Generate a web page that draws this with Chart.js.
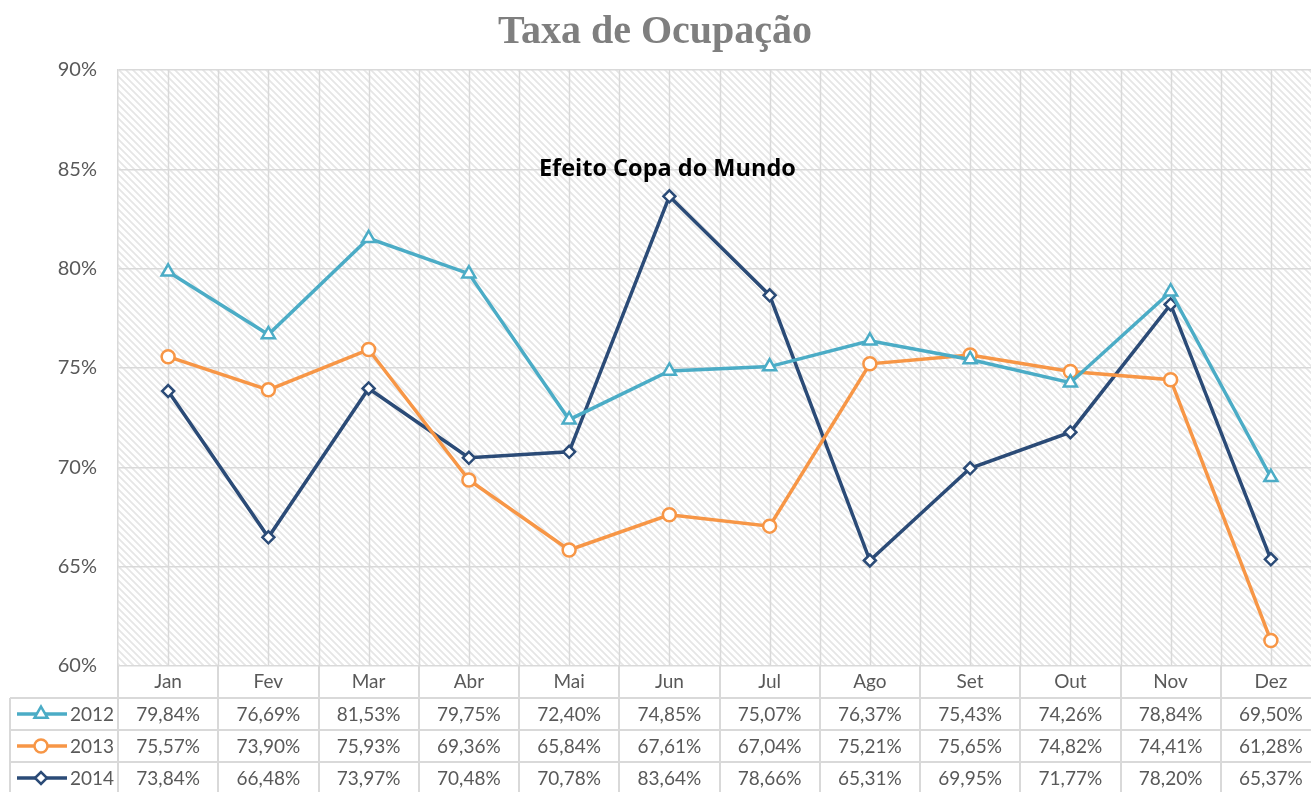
<!DOCTYPE html>
<html lang="pt">
<head>
    <meta charset="UTF-8">
    <title>Taxa de Ocupação</title>
    <script src="https://cdn.jsdelivr.net/npm/chart.js"></script>
    <style>
        html, body {
            margin: 0;
            padding: 0;
            overflow: hidden;
            background: #fff;
        }
        canvas {
            display: block;
        }
    </style>
</head>
<body>
    <canvas id="ocupacao" width="1331" height="792"></canvas>

    <script>
        const meses = ['Jan', 'Fev', 'Mar', 'Abr', 'Mai', 'Jun', 'Jul', 'Ago', 'Set', 'Out', 'Nov', 'Dez'];
        const anos = ['2012', '2013', '2014'];
        const taxa2012 = [79.84, 76.69, 81.53, 79.75, 72.40, 74.85, 75.07, 76.37, 75.43, 74.26, 78.84, 69.50];
        const taxa2013 = [75.57, 73.90, 75.93, 69.36, 65.84, 67.61, 67.04, 75.21, 75.65, 74.82, 74.41, 61.28];
        const taxa2014 = [73.84, 66.48, 73.97, 70.48, 70.78, 83.64, 78.66, 65.31, 69.95, 71.77, 78.20, 65.37];
        const yTicks = [60, 65, 70, 75, 80, 85, 90];
        const anotacao = 'Efeito Copa do Mundo';

        const cores = ['#4bacc6', '#f79646', '#2b4b77'];
        const marcadores = ['triangle', 'circle', 'rectRot'];
        const raios = [7.5, 6.5, 6];
        const series = [taxa2012, taxa2013, taxa2014];

        const textColor = '#595959';
        const gridColor = '#d9d9d9';
        const baseFont = 'Lato, "Open Sans", sans-serif';

        const fmt = v => v.toFixed(2).replace('.', ',') + '%';

        // fundo hachurado
        function hatchPattern(ctx) {
            const c = document.createElement('canvas');
            c.width = 7; c.height = 7;
            const g = c.getContext('2d');
            g.fillStyle = '#ffffff';
            g.fillRect(0, 0, 7, 7);
            g.strokeStyle = '#e6e6e6';
            g.lineWidth = 1.8;
            g.beginPath();
            g.moveTo(-1, -1); g.lineTo(8, 8);
            g.moveTo(-8, -1); g.lineTo(1, 8);
            g.moveTo(6, -1); g.lineTo(15, 8);
            g.stroke();
            return ctx.createPattern(c, 'repeat');
        }

        function drawMarker(ctx, i, x, y) {
            ctx.save();
            ctx.fillStyle = '#fff';
            ctx.strokeStyle = cores[i];
            ctx.lineWidth = 2.5;
            Chart.helpers.drawPoint(ctx, { pointStyle: marcadores[i], radius: raios[i], borderWidth: 2.5, rotation: 0 }, x, y);
            ctx.restore();
        }

        const tabelaPlugin = {
            id: 'tabela',
            beforeDraw(chart) {
                const { ctx, chartArea: a } = chart;
                ctx.save();
                ctx.fillStyle = hatchPattern(ctx);
                ctx.fillRect(a.left, a.top, a.right - a.left, a.bottom - a.top);
                ctx.restore();
            },
            beforeDatasetsDraw(chart) {
                const { ctx, chartArea: a, scales } = chart;
                const x = scales.x;
                const step = (a.right - a.left) / meses.length;
                ctx.save();
                ctx.strokeStyle = gridColor;
                ctx.lineWidth = 1.5;
                ctx.beginPath();
                for (let i = 0; i < meses.length; i++) {
                    const cx = Math.round(x.getPixelForValue(i)) + 0.5;
                    ctx.moveTo(cx, a.top); ctx.lineTo(cx, a.bottom);
                    const bx = Math.round(a.left + (i + 1) * step) + 0.5;
                    ctx.moveTo(bx, a.top); ctx.lineTo(bx, a.bottom);
                }
                ctx.stroke();

                // anotação
                ctx.fillStyle = '#000';
                ctx.font = 'bold 23.5px "Open Sans", sans-serif';
                ctx.textAlign = 'center';
                ctx.textBaseline = 'middle';
                ctx.fillText(anotacao, x.getPixelForValue(5) - 2, scales.y.getPixelForValue(85.0));
                ctx.restore();
            },
            afterDraw(chart) {
                const { ctx, chartArea: a, scales } = chart;
                const x = scales.x;
                const step = (a.right - a.left) / meses.length;
                const rowH = 32;
                const top = a.bottom;
                const legendLeft = 10;
                ctx.save();

                // título
                ctx.fillStyle = '#7f7f7f';
                ctx.font = 'bold 40px "Liberation Serif", "DejaVu Serif", serif';
                ctx.textAlign = 'center';
                ctx.textBaseline = 'alphabetic';
                ctx.fillText('Taxa de Ocupação', 655, 43);

                // grade da tabela
                ctx.strokeStyle = gridColor;
                ctx.lineWidth = 2;
                ctx.beginPath();
                for (let r = 1; r <= 3; r++) {
                    const yy = top + r * rowH;
                    ctx.moveTo(legendLeft, yy); ctx.lineTo(a.right, yy);
                }
                ctx.moveTo(legendLeft, top + rowH); ctx.lineTo(legendLeft, chart.height);
                for (let i = 0; i <= meses.length; i++) {
                    const bx = Math.round(a.left + i * step);
                    ctx.moveTo(bx, top); ctx.lineTo(bx, chart.height);
                }
                ctx.stroke();

                // cabeçalho e valores
                ctx.fillStyle = textColor;
                ctx.font = '19px ' + baseFont;
                ctx.textAlign = 'center';
                ctx.textBaseline = 'middle';
                meses.forEach((m, i) => {
                    const cx = x.getPixelForValue(i);
                    ctx.fillText(m, cx, top + rowH / 2);
                    series.forEach((s, k) => {
                        ctx.fillText(fmt(s[i]), cx, top + rowH * (k + 1) + rowH / 2 + 1);
                    });
                });

                // legenda
                anos.forEach((ano, k) => {
                    const cy = top + rowH * (k + 1) + rowH / 2;
                    ctx.strokeStyle = cores[k];
                    ctx.lineWidth = 3.5;
                    ctx.beginPath();
                    ctx.moveTo(17, cy); ctx.lineTo(67, cy);
                    ctx.stroke();
                    drawMarker(ctx, k, 41, cy);
                    ctx.fillStyle = textColor;
                    ctx.textAlign = 'left';
                    ctx.fillText(ano, 70, cy + 1);
                });
                ctx.restore();
            }
        };

        new Chart(document.getElementById('ocupacao'), {
            type: 'line',
            data: {
                labels: meses,
                datasets: anos.map((ano, k) => ({
                    label: ano,
                    data: series[k],
                    borderColor: cores[k],
                    backgroundColor: '#fff',
                    borderWidth: 3.5,
                    pointStyle: marcadores[k],
                    pointRadius: raios[k],
                    pointBorderWidth: 2.5,
                    pointBackgroundColor: '#fff',
                    pointBorderColor: cores[k],
                    tension: 0
                }))
            },
            options: {
                responsive: false,
                animation: false,
                layout: { padding: { top: 70, left: 0, right: 0, bottom: 0 } },
                plugins: {
                    legend: { display: false },
                    tooltip: { enabled: false },
                    title: { display: false }
                },
                scales: {
                    x: {
                        offset: true,
                        grid: { display: false },
                        border: { display: false },
                        ticks: { display: false },
                        afterFit: s => { s.height = 126; }
                    },
                    y: {
                        min: 60,
                        max: 90,
                        afterBuildTicks: s => { s.ticks = yTicks.map(v => ({ value: v })); },
                        afterFit: s => { s.width = 118; },
                        grid: { color: gridColor, lineWidth: 1.5, drawTicks: false },
                        border: { color: gridColor, width: 1.5 },
                        ticks: {
                            color: textColor,
                            font: { family: baseFont, size: 20 },
                            padding: 21,
                            callback: v => v + '%'
                        }
                    }
                }
            },
            plugins: [tabelaPlugin]
        });
    </script>
</body>
</html>
